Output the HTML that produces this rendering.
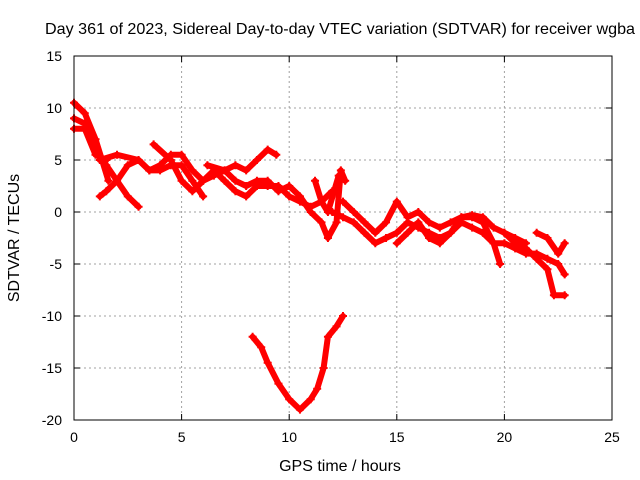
<!DOCTYPE html>
<html><head><meta charset="utf-8"><style>
body{margin:0;background:#fff;}
svg{display:block;font-family:"Liberation Sans",sans-serif;}
</style></head><body>
<svg id="chart" width="640" height="480" viewBox="0 0 640 480">
<rect width="640" height="480" fill="#fff"/>
<text x="340" y="34" font-size="16" text-anchor="middle" textLength="590" lengthAdjust="spacingAndGlyphs">Day 361 of 2023, Sidereal Day-to-day VTEC variation (SDTVAR) for receiver wgba</text>
<text x="340" y="471" font-size="16" text-anchor="middle">GPS time / hours</text>
<text transform="translate(19,238) rotate(-90)" font-size="16" text-anchor="middle">SDTVAR / TECUs</text>
<g id="grid"></g>
<g id="ticks"></g>
<g id="series"></g>
<rect x="74" y="56" width="538" height="364" fill="none" stroke="#000" stroke-width="1"/>
</svg>
<script>
const xTicks=[0,5,10,15,20,25];
const yTicks=[15,10,5,0,-5,-10,-15,-20];
const tracks=[
[[0,10.5],[0.5,9.5],[1,7],[1.3,5],[1.6,3]],
[[0,9],[0.5,8.5],[1,6],[1.5,4.5],[2,3],[2.5,1.5],[3,0.5]],
[[0,8],[0.5,8],[1,5.5],[1.5,5]],
[[1.2,1.5],[1.5,2],[2,3],[2.5,4.5],[3,5],[3.5,4],[4,4],[4.5,4.5],[5,4.5],[5.5,3],[6,1.5]],
[[1.2,5],[2,5.5],[3,5],[3.5,4],[4,4.5],[4.5,5.5],[5,5.5],[5.5,4],[6,3],[6.5,3.5],[7,4],[7.5,4.5],[8,4],[8.5,5],[9,6],[9.4,5.5]],
[[3.7,6.5],[4.5,5],[5,3],[5.5,2],[6,3],[6.5,4],[7,3],[7.5,2],[8,1.5],[8.5,2.5],[9,2.5],[9.5,2.5],[10,1.5],[10.5,1],[11,0.5],[11.5,1],[12,2]],
[[6.2,4.5],[7,4],[7.5,3],[8,2.5],[8.5,3],[9,3],[9.5,2],[10,2.5],[10.5,1.5],[11,0],[11.5,-1],[11.8,-2.5],[12.2,-1],[12.4,4],[12.6,3]],
[[8.3,-12],[8.7,-13],[9,-14.5],[9.5,-16.5],[10,-18],[10.5,-19],[11,-18],[11.3,-17],[11.6,-15],[11.8,-12],[12.2,-11],[12.5,-10]],
[[12,0],[12.5,-0.5],[13,-1],[13.5,-2],[14,-3],[14.5,-2.5],[15,-2],[15.5,-1],[16,-1.5],[16.5,-2],[17,-2.5],[17.5,-2],[18,-1],[18.5,-1.5],[19,-2],[19.5,-3],[20,-3],[20.5,-3.5],[21,-4],[21.5,-4],[22,-4.5],[22.5,-5],[22.8,-6]],
[[12.5,1],[13,0],[13.5,-1],[14,-2],[14.5,-1],[15,1],[15.5,-0.5],[16,0],[16.5,-1],[17,-1.5],[17.5,-1],[18,-0.5],[18.5,-0.3],[19,-0.5],[19.5,-1.5],[20,-2],[20.5,-2.5],[21,-3]],
[[15,-3],[15.5,-2],[16,-1],[16.5,-2.5],[17,-3],[17.5,-2],[18,-0.5],[18.5,-0.5],[19,-1],[19.5,-3],[19.8,-5]],
[[20,-2],[20.5,-3],[21,-3.5],[21.5,-4.5],[22,-5.5],[22.3,-8],[22.8,-8]],
[[21.5,-2],[22,-2.5],[22.5,-4],[22.8,-3]],
[[11.2,3],[11.5,1],[11.8,0],[12.3,3.5]]
];
const NS='http://www.w3.org/2000/svg';
function xs(v){return 74+(v-0)*538/25;}
function ys(v){return 56+(15-v)*364/35;}
function mk(tag,attrs,parent){const e=document.createElementNS(NS,tag);for(const k in attrs)e.setAttribute(k,attrs[k]);parent.appendChild(e);return e;}
const grid=document.getElementById('grid'),ticks=document.getElementById('ticks'),series=document.getElementById('series');
xTicks.forEach(t=>{
  const x=xs(t);
  if(t>0&&t<25){const g=mk('line',{x1:x,x2:x,y1:56,y2:420,stroke:'#a0a0a0','stroke-dasharray':'2,3'},grid);
  
  }
  mk('line',{x1:x,x2:x,y1:420,y2:414,stroke:'#000'},ticks);
  mk('line',{x1:x,x2:x,y1:56,y2:62,stroke:'#000'},ticks);
  const l=mk('text',{x:x,y:442,'font-size':14,'text-anchor':'middle'},ticks);l.textContent=t;
  
  
});
yTicks.forEach(t=>{
  const y=ys(t);
  if(t<15&&t>-20){const g=mk('line',{x1:74,x2:612,y1:y,y2:y,stroke:'#a0a0a0','stroke-dasharray':'2,3'},grid);
  
  }
  mk('line',{x1:74,x2:80,y1:y,y2:y,stroke:'#000'},ticks);
  mk('line',{x1:612,x2:606,y1:y,y2:y,stroke:'#000'},ticks);
  const l=mk('text',{x:62,y:y+5,'font-size':14,'text-anchor':'end'},ticks);l.textContent=t;
  
  
});
tracks.forEach((tr,i)=>{
  const pts=tr.map(p=>xs(p[0]).toFixed(1)+','+ys(p[1]).toFixed(1)).join(' ');
  const pl=mk('polyline',{points:pts,fill:'none',stroke:'#ff0000','stroke-width':6,'stroke-linejoin':'round','stroke-linecap':'round'},series);
  
  
  tr.forEach(p=>{
    const x=xs(p[0]),y=ys(p[1]);
    const m=mk('path',{d:`M${x-4},${y}H${x+4}M${x},${y-4}V${y+4}`,stroke:'#ff0000','stroke-width':2},series);
    
    
  });
});
</script>
</body></html>
